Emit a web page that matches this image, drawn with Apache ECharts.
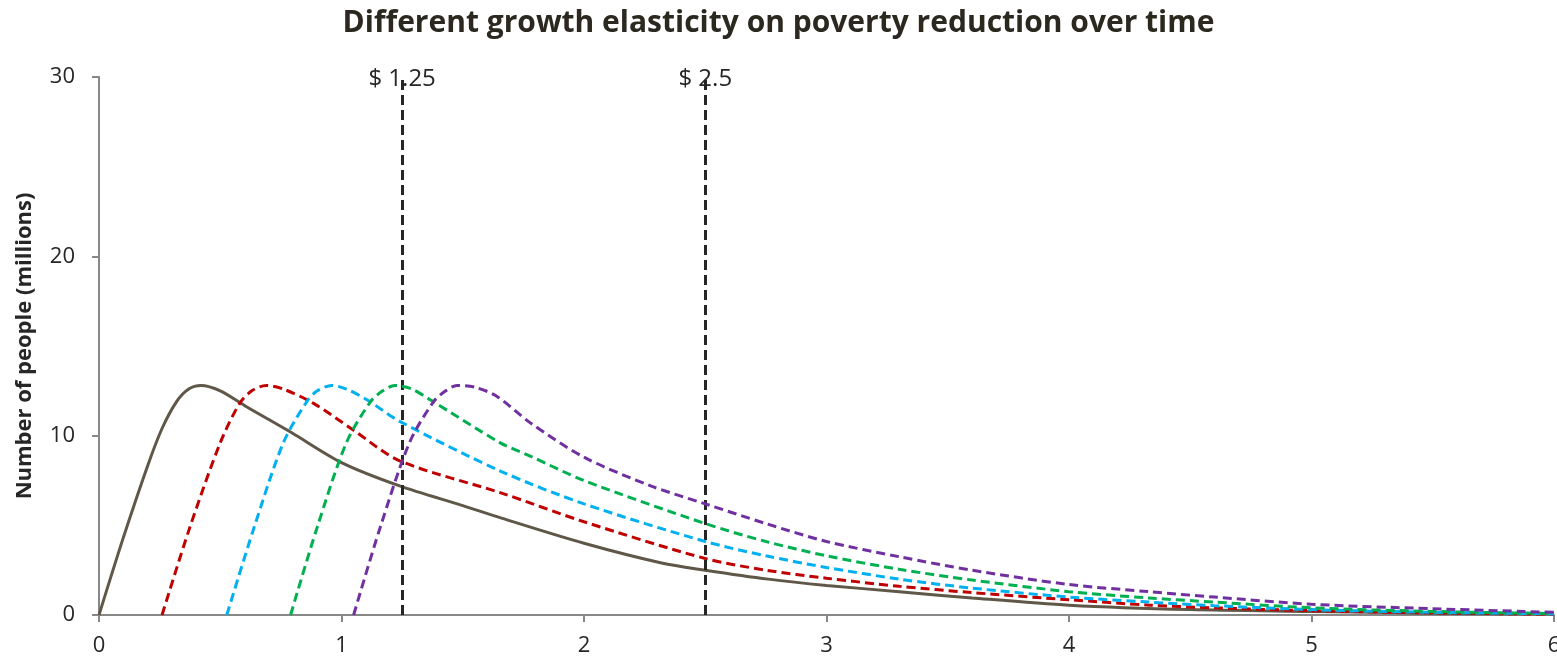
<!DOCTYPE html>
<html>
<head>
<meta charset="utf-8">
<script src="https://cdn.jsdelivr.net/npm/echarts@6/dist/echarts.min.js"></script>
<style>
html,body{margin:0;padding:0;background:#fff;}
#chart{width:1557px;height:664px;}
</style>
</head>
<body>
<div id="chart"></div>
<script>
// ---- data ----
var titleText = 'Different growth elasticity on poverty reduction over time';
var yAxisName = 'Number of people (millions)';
var xTicks = [0, 1, 2, 3, 4, 5, 6];
var yTicks = [0, 10, 20, 30];

var brownX = [0, 0.1, 0.2, 0.26, 0.32, 0.37, 0.42, 0.5, 0.61, 0.79, 1.0, 1.24, 1.5, 1.66, 2.0, 2.32, 2.5, 2.76, 3.0, 3.3, 3.6, 4.0, 4.5, 5.0, 5.5, 6.0];
var brownY = [0, 4.3, 8.3, 10.4, 11.9, 12.6, 12.8, 12.5, 11.6, 10.2, 8.5, 7.2, 6.1, 5.4, 4.0, 2.9, 2.5, 2.0, 1.65, 1.3, 0.95, 0.55, 0.3, 0.2, 0.1, 0.05];

var redX = [0.26, 0.375, 0.5, 0.58, 0.63, 0.69, 0.76, 0.885, 1.05, 1.24, 1.66, 2.0, 2.5, 2.75, 3.0, 3.3, 3.6, 4.0, 4.33, 4.6, 5.0, 5.5, 6.0];
var redY = [0, 4.9, 9.6, 11.8, 12.5, 12.8, 12.6, 11.8, 10.3, 8.6, 6.8, 5.2, 3.15, 2.5, 2.05, 1.6, 1.25, 0.85, 0.55, 0.4, 0.24, 0.12, 0.05];

var blueX = [0.527, 0.64, 0.76, 0.857, 0.9, 0.96, 1.02, 1.105, 1.24, 1.66, 2.0, 2.5, 2.75, 3.0, 3.3, 3.6, 4.0, 4.33, 4.6, 5.0, 5.5, 6.0];
var blueY = [0, 4.9, 9.6, 11.9, 12.5, 12.8, 12.6, 12.0, 10.8, 8.0, 6.2, 4.1, 3.3, 2.65, 2.0, 1.5, 1.0, 0.72, 0.52, 0.3, 0.15, 0.07];

var greenX = [0.79, 0.9, 1.02, 1.12, 1.17, 1.22, 1.29, 1.366, 1.655, 1.78, 2.0, 2.5, 2.75, 3.0, 3.3, 3.6, 4.0, 4.33, 4.6, 5.0, 5.5, 6.0];
var greenY = [0, 4.9, 9.6, 11.9, 12.5, 12.8, 12.6, 12.0, 9.6, 8.85, 7.5, 5.1, 4.1, 3.3, 2.55, 1.95, 1.3, 0.95, 0.72, 0.4, 0.2, 0.08];

var purpleX = [1.05, 1.16, 1.28, 1.38, 1.43, 1.476, 1.55, 1.64, 1.78, 2.0, 2.275, 2.5, 2.75, 3.0, 3.3, 3.6, 4.0, 4.33, 4.6, 5.0, 5.5, 6.0];
var purpleY = [0, 4.9, 9.6, 11.9, 12.5, 12.8, 12.7, 12.2, 10.7, 8.8, 7.2, 6.2, 5.1, 4.1, 3.25, 2.5, 1.7, 1.3, 1.0, 0.6, 0.35, 0.15];

var thresholdX = [1.25, 2.5];
var thresholdLabels = ['$ 1.25', '$ 2.5'];

function pairs(xs, ys) {
  var out = [];
  for (var i = 0; i < xs.length; i++) out.push([xs[i], ys[i]]);
  return out;
}

var fontFam = '"Open Sans", "Noto Sans", sans-serif';
var dashed = [9, 5];

function mkSeries(name, xs, ys, color, type, z) {
  return {
    name: name,
    type: 'line',
    data: pairs(xs, ys),
    smooth: 0.3,
    symbol: 'none',
    z: z,
    lineStyle: { color: color, width: 3, type: type, cap: 'butt' }
  };
}

var series = [
  mkSeries('base', brownX, brownY, '#5f5747', 'solid', 3),
  mkSeries('e1', redX, redY, '#c00000', dashed, 4),
  mkSeries('e2', blueX, blueY, '#00b0f0', dashed, 5),
  mkSeries('e3', greenX, greenY, '#00b050', dashed, 6),
  mkSeries('e4', purpleX, purpleY, '#7030a0', dashed, 7)
];

series.push({
  name: 'thresholds',
  type: 'line',
  data: [],
  markLine: {
    silent: true,
    symbol: ['none', 'none'],
    lineStyle: { color: '#262626', width: 3, type: [10, 5] },
    label: {
      show: true,
      position: 'end',
      distance: -14,
      color: '#262626',
      fontFamily: fontFam,
      fontSize: 24,
      formatter: function (p) { return p.name; }
    },
    data: thresholdX.map(function (x, i) { return { xAxis: x, name: thresholdLabels[i] }; })
  },
  z: 2
});

var chart = echarts.init(document.getElementById('chart'), null, { renderer: 'canvas' });
chart.setOption({
  animation: false,
  backgroundColor: '#ffffff',
  title: {
    text: titleText,
    left: 'center',
    top: 3,
    textStyle: { fontFamily: fontFam, fontWeight: 'bold', fontSize: 30, color: '#2b281f' }
  },
  grid: { left: 99, right: 3, top: 77, bottom: 49, containLabel: false, outerBoundsMode: 'none' },
  xAxis: {
    type: 'value',
    min: xTicks[0],
    max: xTicks[xTicks.length - 1],
    interval: 1,
    splitLine: { show: false },
    axisLine: { show: true, onZero: false, lineStyle: { color: '#888888', width: 2 } },
    axisTick: { show: true, length: 7, lineStyle: { color: '#888888', width: 2 } },
    axisLabel: { margin: 20, color: '#262626', fontFamily: fontFam, fontSize: 22, hideOverlap: false }
  },
  yAxis: {
    type: 'value',
    min: yTicks[0],
    max: yTicks[yTicks.length - 1],
    interval: 10,
    name: yAxisName,
    nameLocation: 'middle',
    nameGap: 63,
    nameTextStyle: { fontFamily: fontFam, fontWeight: 'bold', fontSize: 22, color: '#262626' },
    splitLine: { show: false },
    axisLine: { show: true, lineStyle: { color: '#888888', width: 2 } },
    axisTick: { show: true, length: 7, lineStyle: { color: '#888888', width: 2 } },
    axisLabel: { margin: 24, color: '#262626', fontFamily: fontFam, fontSize: 22 }
  },
  series: series
});
</script>
</body>
</html>
